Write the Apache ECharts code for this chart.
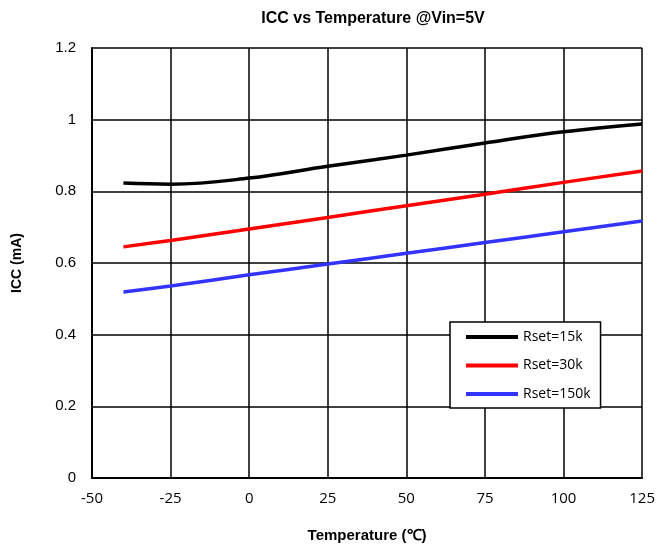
<!DOCTYPE html>
<html>
<head>
<meta charset="utf-8">
<script src="https://cdn.jsdelivr.net/npm/echarts@6/dist/echarts.min.js"></script>
<style>
html, body { margin: 0; padding: 0; background: #fff; }
#chart { width: 658px; height: 551px; }
</style>
</head>
<body>
<div id="chart"></div>
<script>
var temps = [-40, -25, 0, 25, 50, 75, 100, 125];
var icc15k = [0.823, 0.820, 0.837, 0.870, 0.901, 0.935, 0.966, 0.988];
var icc30k = [0.645, 0.663, 0.695, 0.727, 0.760, 0.792, 0.825, 0.857];
var icc150k = [0.519, 0.536, 0.567, 0.597, 0.627, 0.657, 0.687, 0.717];
var seriesNames = ['Rset=15k', 'Rset=30k', 'Rset=150k'];
var seriesColors = ['#000000', '#ff0000', '#3333ff'];

function pairs(ys) {
	var out = [];
	for (var i = 0; i < temps.length; i++) {
		out.push([temps[i], ys[i]]);
	}
	return out;
}

var allData = [icc15k, icc30k, icc150k];
var series = [];
for (var s = 0; s < allData.length; s++) {
	series.push({
		name: seriesNames[s],
		type: 'line',
		smooth: 0.4,
		symbol: 'none',
		data: pairs(allData[s]),
		lineStyle: { color: seriesColors[s], width: 3.5 },
		itemStyle: { color: seriesColors[s] }
	});
}

var myChart = echarts.init(document.getElementById('chart'));
myChart.setOption({
	animation: false,
	title: {
		text: 'ICC vs Temperature @Vin=5V',
		left: 368,
		top: 6,
		textAlign: 'center',
		textStyle: { fontFamily: 'Liberation Sans', fontSize: 16, fontWeight: 'bold', color: '#000' }
	},
	grid: { left: 92, top: 48, width: 552, height: 430 },
	legend: {
		orient: 'vertical',
		left: 450,
		top: 322,
		padding: [7, 10, 6, 16],
		icon: 'path://M0,0 L52,0 L52,4 L0,4 Z',
		itemWidth: 52,
		itemHeight: 4,
		itemGap: 12.5,
		borderColor: '#000',
		borderWidth: 1.5,
		backgroundColor: '#fff',
		textStyle: { fontFamily: 'Open Sans', fontSize: 14, lineHeight: 16, color: '#000' },
		data: seriesNames
	},
	xAxis: {
		type: 'value',
		min: -50,
		max: 125,
		interval: 25,
		name: 'Temperature (\u2103)',
		nameLocation: 'middle',
		nameGap: 50,
		nameTextStyle: { fontFamily: 'Liberation Sans', fontSize: 15, fontWeight: 'bold', color: '#000' },
		axisLine: { onZero: false, lineStyle: { color: '#000', width: 2 } },
		axisTick: { show: false },
		axisLabel: { fontFamily: 'Open Sans', fontSize: 15, color: '#000', margin: 13 },
		splitLine: { show: true, lineStyle: { color: '#000', width: 1.5 } }
	},
	yAxis: {
		type: 'value',
		min: 0,
		max: 1.2,
		interval: 0.2,
		name: 'ICC (mA)',
		nameLocation: 'middle',
		nameGap: 68,
		nameTextStyle: { fontFamily: 'Liberation Sans', fontSize: 14, fontWeight: 'bold', color: '#000' },
		axisLine: { show: true, onZero: false, lineStyle: { color: '#000', width: 2 } },
		axisTick: { show: false },
		axisLabel: {
			fontFamily: 'Liberation Sans', fontSize: 15, color: '#000', margin: 16,
			formatter: function(v) { return String(Math.round(v * 10) / 10); }
		},
		splitLine: { show: true, lineStyle: { color: '#000', width: 1.5 } }
	},
	series: series
});
</script>
</body>
</html>
